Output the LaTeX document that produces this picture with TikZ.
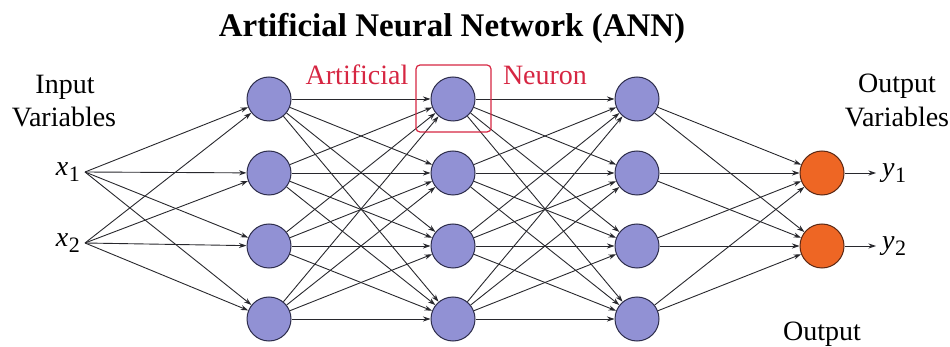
\documentclass[tikz,border=0pt]{standalone}
\usepackage{fontspec}
\setmainfont{LiberationSerif}[Extension=.ttf, UprightFont=*-Regular, BoldFont=*-Bold, ItalicFont=*-Italic, BoldItalicFont=*-BoldItalic]
\usetikzlibrary{arrows.meta}
\definecolor{neuronfill}{RGB}{145,145,212}
\definecolor{neuronline}{RGB}{45,45,75}
\definecolor{outfill}{RGB}{238,102,36}
\definecolor{outline}{RGB}{90,40,20}
\definecolor{wire}{RGB}{40,40,45}
\definecolor{hilite}{RGB}{214,38,66}
\tikzset{
  hidden/.style={circle, draw=neuronline, line width=1pt, fill=neuronfill, minimum size=44pt, inner sep=0pt},
  outnode/.style={circle, draw=outline, line width=1pt, fill=outfill, minimum size=44pt, inner sep=0pt},
  lbl/.style={inner sep=0pt, anchor=base, font=\fontsize{28}{33}\selectfont},
  varlbl/.style={inner sep=0pt, font=\fontsize{28}{33}\selectfont},
  wirearrow/.style={draw=wire, line width=0.9pt, -{Stealth[length=7.5pt,width=5pt]}},
}
\newcommand{\invar}[2]{{\itshape #1}\kern0.5pt\raisebox{-0.22em}{\fontsize{22}{22}\selectfont #2}}
\begin{document}
\begin{tikzpicture}[x=1pt, y=-1pt]
  \useasboundingbox (0,0) rectangle (950,347);
  \clip (0,0) rectangle (950,347);

  % title
  \node[inner sep=0pt, anchor=base, font=\fontsize{33}{40}\selectfont\bfseries] (title) at (452,37) {Artificial Neural Network (ANN)};

  % side captions
  \node[lbl] (inlbl1) at (65,94) {Input};
  \node[lbl] (inlbl2) at (64,127) {Variables};
  \node[lbl] (outlbl1) at (897,93) {Output};
  \node[lbl] (outlbl2) at (897,127) {Variables};
  \node[lbl] (outlayer) at (822,340) {Output};

  % inputs
  \node[varlbl, anchor=east] (x1) at (80,172) {\invar{x}{1}};
  \node[varlbl, anchor=east] (x2) at (80,243) {\invar{x}{2}};
  \coordinate (i1) at (85,172);
  \coordinate (i2) at (85,243);

  % hidden layers
  \foreach \c/\x in {a/269, b/453, c/637} {
    \foreach \r/\y in {1/99, 2/173, 3/246, 4/319} {
      \node[hidden] (\c\r) at (\x,\y) {};
    }
  }

  % output neurons
  \node[outnode] (o1) at (822,173) {};
  \node[outnode] (o2) at (822,246) {};
  \coordinate (e1) at (876,173);
  \coordinate (e2) at (876,246);
  \node[varlbl, anchor=west] (y1) at (882,173) {\invar{y}{1}};
  \node[varlbl, anchor=west] (y2) at (882,246) {\invar{y}{2}};

  % connections
  \foreach \s in {i1, i2} {
    \foreach \t in {a1, a2, a3, a4} { \draw[wirearrow] (\s) -- (\t); }
  }
  \foreach \s in {a1, a2, a3, a4} {
    \foreach \t in {b1, b2, b3, b4} { \draw[wirearrow] (\s) -- (\t); }
  }
  \foreach \s in {b1, b2, b3, b4} {
    \foreach \t in {c1, c2, c3, c4} { \draw[wirearrow] (\s) -- (\t); }
  }
  \foreach \s in {c1, c2, c3, c4} {
    \foreach \t in {o1, o2} { \draw[wirearrow] (\s) -- (\t); }
  }
  \draw[wirearrow] (o1) -- (e1);
  \draw[wirearrow] (o2) -- (e2);

  % highlighted neuron
  \node[draw=hilite, line width=1.2pt, rounded corners=4pt, minimum width=75pt, minimum height=67pt, inner sep=0pt] (box) at (453.5,98.5) {};
  \node[lbl, text=hilite] (artlbl) at (357,85) {Artificial};
  \node[lbl, text=hilite] (neulbl) at (545,85) {Neuron};
\end{tikzpicture}
\end{document}
